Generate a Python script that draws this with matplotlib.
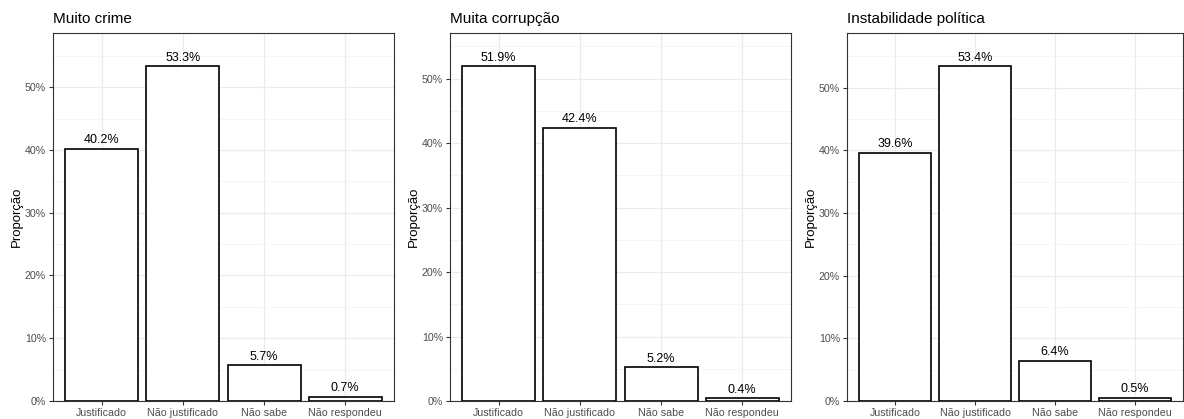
import numpy as np
import matplotlib.pyplot as plt
from matplotlib.ticker import FuncFormatter, MultipleLocator

plt.rcParams['font.family'] = ['Liberation Sans', 'DejaVu Sans']

categorias = ['Justificado', 'Não justificado', 'Não sabe', 'Não respondeu']
titulos = ['Muito crime', 'Muita corrupção', 'Instabilidade política']
muito_crime = [40.2, 53.3, 5.7, 0.7]
muita_corrupcao = [51.9, 42.4, 5.2, 0.4]
instabilidade = [39.6, 53.4, 6.4, 0.5]
series = [muito_crime, muita_corrupcao, instabilidade]

W, H = 1184, 419
fig = plt.figure(figsize=(W / 100, H / 100), dpi=100)

# panel boxes in pixels: left, right
paineis = [(53, 394), (450, 791), (847, 1183)]
top_px, bot_px = 33, 401

for (l, r), titulo, vals in zip(paineis, titulos, series):
    ax = fig.add_axes([l / W, (H - bot_px) / H, (r - l) / W, (bot_px - top_px) / H])
    x = np.arange(len(categorias))
    ax.bar(x, vals, width=0.9, color='white', edgecolor='black', linewidth=1.2, zorder=3)
    for xi, v in zip(x, vals):
        ax.text(xi, v + max(vals) * 0.008, '%.1f%%' % v, ha='center', va='bottom',
                fontsize=9, color='black', zorder=4)
    ax.set_xlim(-0.6, len(categorias) - 0.4)
    ax.set_ylim(0, max(vals) * 1.1)
    ax.set_xticks(x)
    ax.set_xticklabels(categorias, fontsize=7.7, color='#4D4D4D')
    ax.yaxis.set_major_locator(MultipleLocator(10))
    ax.yaxis.set_minor_locator(MultipleLocator(5))
    ax.yaxis.set_major_formatter(FuncFormatter(lambda v, p: '%d%%' % v))
    ax.tick_params(axis='y', labelsize=7.7, labelcolor='#4D4D4D', color='#333333',
                   length=3, width=0.8, pad=2)
    ax.tick_params(axis='y', which='minor', length=0)
    ax.tick_params(axis='x', color='#333333', length=3, width=0.8, pad=2)
    ax.grid(which='major', color='#EBEBEB', linewidth=0.9, zorder=0)
    ax.grid(which='minor', axis='y', color='#F2F2F2', linewidth=0.5, zorder=0)
    ax.set_axisbelow(True)
    for s in ax.spines.values():
        s.set_color('#333333')
        s.set_linewidth(0.8)
    ax.set_ylabel('Proporção', fontsize=9.5, labelpad=1.5)
    ax.set_title(titulo, loc='left', fontsize=11, pad=7)

fig.savefig('out.png', dpi=100, facecolor='white')
